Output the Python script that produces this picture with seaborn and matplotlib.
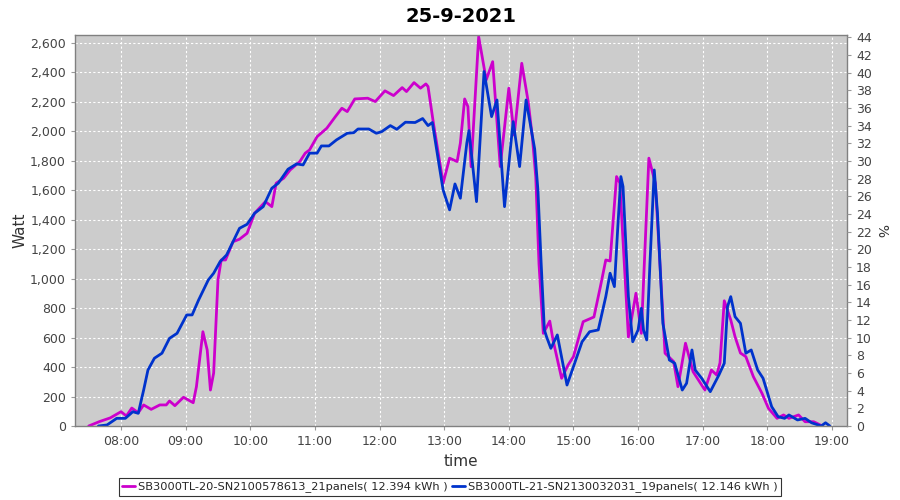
import matplotlib
matplotlib.use("Agg")
import matplotlib.pyplot as plt
import matplotlib.ticker as mticker
from matplotlib.lines import Line2D
import seaborn as sns
import pandas as pd

TITLE = "25-9-2021"
SERIES_A = "SB3000TL-20-SN2100578613_21panels( 12.394 kWh )"
SERIES_B = "SB3000TL-21-SN2130032031_19panels( 12.146 kWh )"

times_a = ["07:30", "07:40", "07:50", "08:00", "08:05", "08:10", "08:16", "08:21", "08:28", "08:36",
           "08:42", "08:45", "08:50", "08:58", "09:07", "09:10", "09:16", "09:20", "09:23", "09:26",
           "09:30", "09:33", "09:37", "09:44", "09:50", "09:57", "10:04", "10:14", "10:20", "10:24",
           "10:31", "10:37", "10:46", "10:51", "10:55", "11:02", "11:11", "11:19", "11:25", "11:30",
           "11:37", "11:49", "11:56", "12:05", "12:13", "12:21", "12:25", "12:32", "12:38", "12:43",
           "12:45", "12:50", "12:55", "12:59", "13:05", "13:12", "13:15", "13:19", "13:22", "13:25",
           "13:32", "13:39", "13:45", "13:52", "14:00", "14:05", "14:12", "14:18", "14:22", "14:25",
           "14:28", "14:32", "14:38", "14:41", "14:49", "14:55", "15:00", "15:09", "15:19", "15:25",
           "15:30", "15:34", "15:40", "15:43", "15:51", "15:58", "16:03", "16:10", "16:16", "16:25",
           "16:33", "16:37", "16:44", "16:51", "17:02", "17:08", "17:13", "17:16", "17:20", "17:26",
           "17:30", "17:35", "17:40", "17:47", "17:55", "18:01", "18:09", "18:15", "18:20", "18:29",
           "18:35", "18:43", "18:51"]
watt_a = [0, 30, 55, 97, 68, 122, 90, 143, 113, 143,
          143, 170, 138, 195, 158, 267, 640, 516, 244, 360,
          991, 1127, 1127, 1251, 1268, 1308, 1444, 1523, 1489, 1648,
          1682, 1738, 1795, 1852, 1874, 1964, 2021, 2100, 2157, 2134,
          2220, 2225, 2202, 2275, 2243, 2297, 2270, 2331, 2293, 2322,
          2304, 2055, 1829, 1648, 1818, 1795, 1920, 2220, 2168, 1760,
          2643, 2349, 2473, 1761, 2293, 1975, 2462, 2200, 1950, 1690,
          1100, 629, 712, 584, 324, 414, 471, 708, 740, 946,
          1127, 1120, 1693, 1650, 604, 901, 629, 1818, 1648, 494,
          437, 267, 562, 369, 244, 380, 346, 428, 850, 720,
          606, 495, 471, 335, 222, 120, 52, 75, 52, 75,
          29, 29, 0]

times_b = ["07:39", "07:47", "07:56", "08:04", "08:11", "08:16", "08:21", "08:25", "08:31", "08:38",
           "08:45", "08:52", "09:01", "09:06", "09:12", "09:21", "09:26", "09:32", "09:38", "09:50",
           "09:57", "10:04", "10:12", "10:20", "10:26", "10:35", "10:43", "10:49", "10:55", "11:02",
           "11:06", "11:13", "11:20", "11:30", "11:36", "11:40", "11:50", "11:57", "12:02", "12:10",
           "12:16", "12:24", "12:33", "12:40", "12:45", "12:49", "12:55", "12:59", "13:05", "13:10",
           "13:15", "13:21", "13:23", "13:30", "13:37", "13:44", "13:49", "13:56", "14:04", "14:10",
           "14:16", "14:24", "14:27", "14:30", "14:33", "14:35", "14:39", "14:45", "14:54", "15:00",
           "15:08", "15:15", "15:23", "15:30", "15:34", "15:38", "15:41", "15:44", "15:46", "15:51",
           "15:55", "16:00", "16:03", "16:05", "16:08", "16:11", "16:15", "16:18", "16:23", "16:29",
           "16:34", "16:41", "16:45", "16:50", "16:53", "16:59", "17:07", "17:15", "17:20", "17:23",
           "17:26", "17:30", "17:35", "17:40", "17:45", "17:51", "17:56", "18:04", "18:10", "18:16",
           "18:20", "18:28", "18:35", "18:41", "18:50", "18:54", "18:58"]
watt_b = [0, 7, 52, 52, 97, 86, 244, 380, 460, 494,
          595, 629, 754, 754, 855, 991, 1037, 1116, 1161, 1342,
          1369, 1444, 1489, 1614, 1648, 1743, 1779, 1772, 1852, 1852,
          1901, 1901, 1942, 1987, 1991, 2016, 2016, 1987, 1998, 2039,
          2014, 2062, 2060, 2087, 2039, 2060, 1784, 1602, 1467, 1643,
          1546, 1920, 2005, 1523, 2406, 2100, 2213, 1489, 2066, 1761,
          2213, 1880, 1602, 1105, 652, 606, 527, 618, 278, 403,
          572, 640, 652, 878, 1037, 946, 1331, 1693, 1625, 878,
          572, 652, 799, 652, 584, 1105, 1738, 1444, 697, 448,
          426, 244, 290, 516, 380, 324, 233, 346, 426, 810,
          878, 742, 697, 494, 516, 380, 324, 131, 63, 52,
          75, 41, 52, 22, 0, 22, 0]

hour_ticks = list(range(8, 20))
hour_labels = [f"{h:02d}:00" for h in hour_ticks]
watt_ticks = list(range(0, 2601, 200))
pct_ticks = list(range(0, 45, 2))


def to_hours(t):
    h, m = t.split(":")
    return int(h) + int(m) / 60.0


df = pd.concat([
    pd.DataFrame({"time": [to_hours(t) for t in times_a], "watt": watt_a, "series": SERIES_A}),
    pd.DataFrame({"time": [to_hours(t) for t in times_b], "watt": watt_b, "series": SERIES_B}),
], ignore_index=True)

sns.set_theme(style="white")
plt.rcParams["font.family"] = ["DejaVu Sans"]

colors = {SERIES_A: "#cc00cc", SERIES_B: "#0033cc"}

fig = plt.figure(figsize=(9, 5), dpi=100)
ax = fig.add_axes([75 / 900, 1 - 426 / 500, (847 - 75) / 900, (426 - 35) / 500])
ax.set_facecolor("#cccccc")

sns.lineplot(data=df, x="time", y="watt", hue="series", palette=colors, ax=ax,
             linewidth=2.0, legend=False, sort=False, estimator=None,
             solid_joinstyle="round", solid_capstyle="round")

ax.set_xlim(7.288, 19.232)
ax.set_ylim(0, 2654)
ax.set_xticks(hour_ticks)
ax.set_xticklabels(hour_labels)
ax.set_yticks(watt_ticks)
ax.yaxis.set_major_formatter(mticker.FuncFormatter(lambda v, p: f"{int(v):,}"))

ax.grid(True, color="white", linestyle=(0, (2, 2)), linewidth=0.8)
ax.set_axisbelow(True)
for s in ax.spines.values():
    s.set_color("#808080")
    s.set_linewidth(1.0)

tick_kw = dict(labelsize=9, labelcolor="#444444", color="#999999", length=3, width=0.8, direction="out")
ax.tick_params(axis="both", **tick_kw)
ax.tick_params(axis="both", which="both", bottom=True, left=True)

ax.set_xlabel("time", fontsize=11, color="#333333", labelpad=4)
ax.set_ylabel("Watt", fontsize=11, color="#333333", labelpad=2)

ax2 = ax.twinx()
ax2.set_ylim(0, 44.26)
ax2.set_yticks(pct_ticks)
ax2.tick_params(axis="y", right=True, **tick_kw)
ax2.set_ylabel("%", fontsize=10, color="#333333", rotation=270, labelpad=12)
for s in ax2.spines.values():
    s.set_visible(False)
ax2.grid(False)

fig.suptitle(TITLE, x=(75 + 847) / 2 / 900, y=0.985, fontsize=14, fontweight="bold", color="black")

handles = [Line2D([0], [0], color=colors[SERIES_A], lw=2),
           Line2D([0], [0], color=colors[SERIES_B], lw=2)]
leg = fig.legend(handles, [SERIES_A, SERIES_B], loc="center", bbox_to_anchor=(450 / 900, 1 - 487 / 500),
                 ncol=2, fontsize=8.2, frameon=True, fancybox=False, handlelength=1.1,
                 handletextpad=0.3, columnspacing=0.4, borderpad=0.3)
leg.get_frame().set_edgecolor("black")
leg.get_frame().set_linewidth(0.8)

fig.savefig("out.png", dpi=100)
